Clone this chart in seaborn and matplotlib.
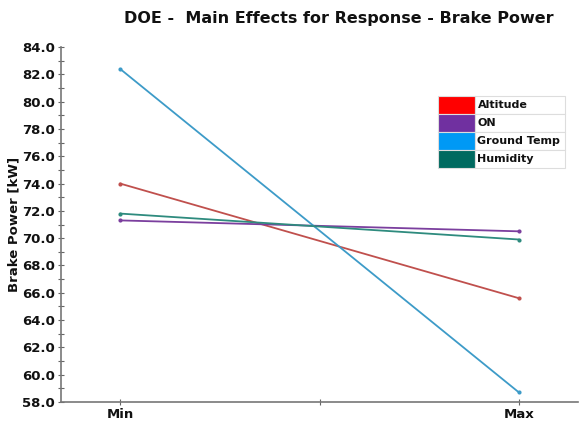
import matplotlib
matplotlib.use("Agg")
import matplotlib.pyplot as plt
import seaborn as sns
import pandas as pd
from matplotlib.ticker import MultipleLocator, FixedLocator

levels = ["Min", "Max"]
factors = ["Altitude", "ON", "Ground Temp", "Humidity"]
altitude = [74.0, 65.6]
on_vals = [71.3, 70.5]
ground_temp = [82.4, 58.7]
humidity = [71.8, 69.9]

line_colors = {"Altitude": "#C0504D", "ON": "#7B3F9E", "Ground Temp": "#3D9BC8", "Humidity": "#2E8B7E"}
legend_colors = {"Altitude": "#FF0000", "ON": "#7030A0", "Ground Temp": "#0099F5", "Humidity": "#006A60"}

rows = []
for name, vals in zip(factors, [altitude, on_vals, ground_temp, humidity]):
    for i, (lvl, v) in enumerate(zip(levels, vals)):
        rows.append({"Factor": name, "Level": lvl, "pos": i, "Brake Power": v})
df = pd.DataFrame(rows)

sns.set_style("white")
plt.rcParams['font.family'] = ['DejaVu Sans']
plt.rcParams['text.color'] = '#111111'
plt.rcParams['xtick.color'] = '#666666'
plt.rcParams['ytick.color'] = '#666666'
plt.rcParams['xtick.labelcolor'] = '#111111'
plt.rcParams['ytick.labelcolor'] = '#111111'
plt.rcParams['axes.labelcolor'] = '#111111'

fig = plt.figure(figsize=(5.87, 4.21), dpi=100)
ax = fig.add_axes([61/587, 1 - 402/421, 517/587, 355/421])

sns.lineplot(data=df, x="pos", y="Brake Power", hue="Factor", palette=line_colors,
             marker="o", markersize=3, markeredgewidth=0, linewidth=1.3, ax=ax, legend=False)

ax.set_xlim(-0.148, 1.148)
ax.set_ylim(58, 84)
ax.xaxis.set_major_locator(FixedLocator([0, 1]))
ax.set_xticklabels(levels, fontsize=9.5, fontweight="bold")
ax.xaxis.set_minor_locator(FixedLocator([0.5]))
ax.yaxis.set_major_locator(MultipleLocator(2))
ax.yaxis.set_minor_locator(MultipleLocator(1))
ax.set_yticklabels([f"{v:.1f}" for v in ax.get_yticks()], fontsize=9.5, fontweight="bold")
ax.set_ylim(58, 84)
ax.tick_params(axis="both", which="both", left=True, bottom=True)
ax.tick_params(axis="both", which="major", direction="inout", length=5, width=0.8, pad=2)
ax.tick_params(axis="both", which="minor", direction="inout", length=4, width=0.8)
ax.set_xlabel("")
ax.set_ylabel("Brake Power [kW]", fontsize=9.5, fontweight="bold", labelpad=1)
for s in ["top", "right"]:
    ax.spines[s].set_visible(False)
for s in ["left", "bottom"]:
    ax.spines[s].set_color("#777777")
    ax.spines[s].set_linewidth(1.2)

fig.text(339/587, 1 - 19/421, "DOE -  Main Effects for Response - Brake Power",
         ha="center", va="center", fontsize=11.5, fontweight="bold")

cell_text = [["", f] for f in factors]
cell_colors = [[legend_colors[f], "white"] for f in factors]
tbl = ax.table(cellText=cell_text, cellColours=cell_colors,
               bbox=[0.729, 0.659, 0.246, 0.203], cellLoc="left")
tbl.auto_set_font_size(False)
tbl.set_fontsize(8)
for (r, c), cell in tbl.get_celld().items():
    cell.set_edgecolor("#DDDDDD")
    cell.set_linewidth(0.8)
    if c == 0:
        cell.set_width(0.29)
    else:
        cell.set_width(0.71)
        cell.get_text().set_fontweight("bold")
        cell.get_text().set_color("#111111")
        cell.PAD = 0.03

fig.savefig("out.png", dpi=100, facecolor="white")
